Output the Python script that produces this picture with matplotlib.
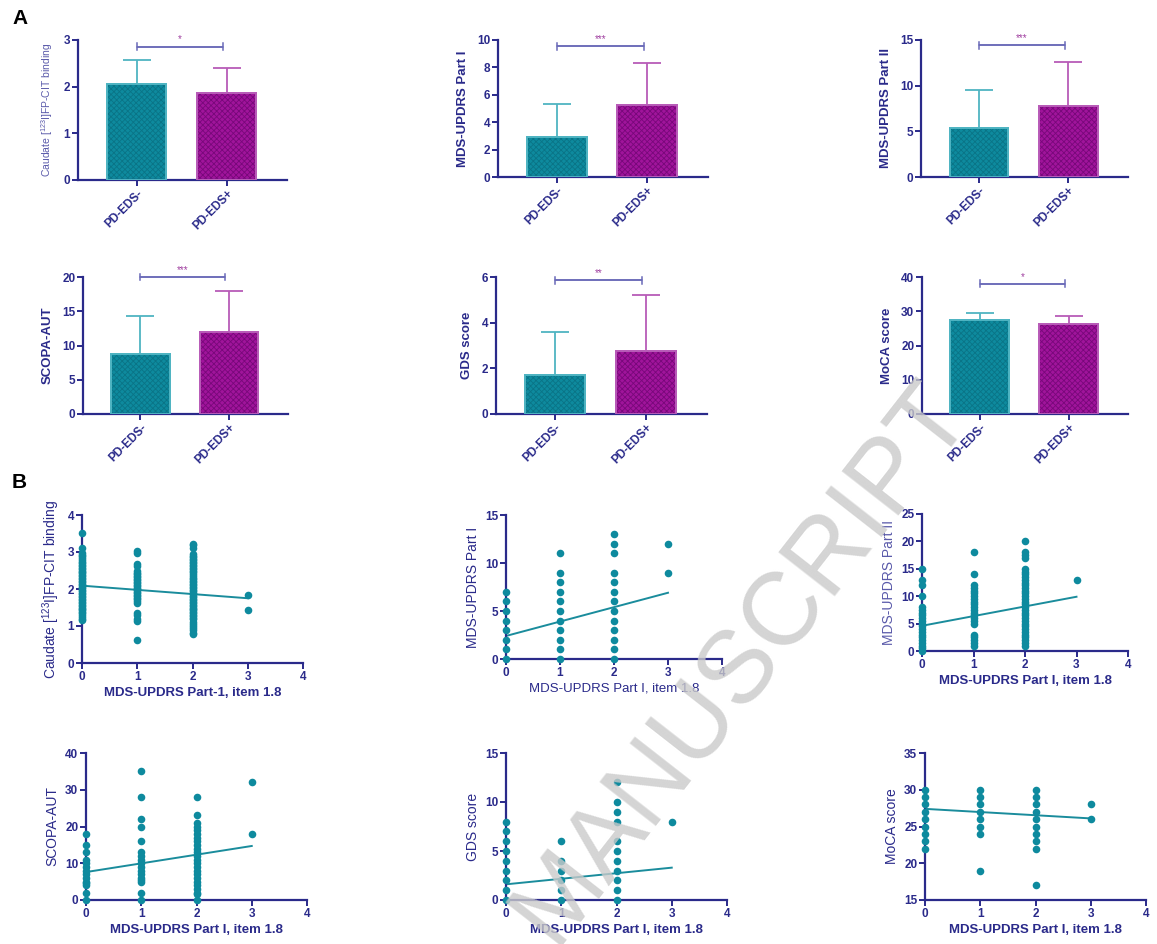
"""Recreate the PD-EDS bar and scatter figure"""
import matplotlib

matplotlib.use("Agg")
import matplotlib.pyplot as plt  # noqa: E402

plt.rcParams["font.family"] = ["Liberation Sans", "DejaVu Sans"]
plt.rcParams["mathtext.default"] = "regular"
plt.rcParams["hatch.linewidth"] = 0.6

NAVY = "#2A2A8A"
TEAL = "#0E8A9E"
MAG = "#A0149B"

# ---- panel A: group means, upper SD and significance ----
groups = ["PD-EDS-", "PD-EDS+"]
bar_labels = [r"Caudate [$^{123}$I]FP-CIT binding", "MDS-UPDRS Part I",
              "MDS-UPDRS Part II", "SCOPA-AUT", "GDS score", "MoCA score"]
bar_means = [[2.05, 1.86], [2.9, 5.25], [5.4, 7.75],
             [8.7, 11.9], [1.7, 2.75], [27.3, 26.3]]
bar_tops = [[2.58, 2.41], [5.35, 8.3], [9.5, 12.55],
            [14.3, 17.9], [3.6, 5.2], [29.5, 28.7]]
bar_ymax = [3, 10, 15, 20, 6, 40]
bar_ystep = [1, 2, 5, 5, 2, 10]
sig_y = [2.86, 9.55, 14.4, 20.0, 5.85, 38.0]
sig_stars = ["*", "***", "***", "***", "**", "*"]

# ---- panel B: item 1.8 score (0..3) vs outcome ----
sc_ylabels = [r"Caudate [$^{123}$I]FP-CIT binding", "MDS-UPDRS Part I",
              "MDS-UPDRS Part II", "SCOPA-AUT", "GDS score", "MoCA score"]
sc_xlabels = ["MDS-UPDRS Part-1, item 1.8", "MDS-UPDRS Part I, item 1.8",
              "MDS-UPDRS Part I, item 1.8", "MDS-UPDRS Part I, item 1.8",
              "MDS-UPDRS Part I, item 1.8", "MDS-UPDRS Part I, item 1.8"]
sc_ylim = [(0, 4), (0, 15), (0, 25), (0, 40), (0, 15), (15, 35)]
sc_ystep = [1, 5, 5, 10, 5, 5]
caud_pts = [
    [3.52, 3.1, 2.98, 2.92, 2.88, 2.83, 2.78, 2.74, 2.7, 2.66, 2.62, 2.58,
     2.54, 2.5, 2.46, 2.42, 2.38, 2.34, 2.3, 2.26, 2.22, 2.18, 2.14, 2.1,
     2.06, 2.02, 1.98, 1.94, 1.9, 1.86, 1.82, 1.78, 1.74, 1.7, 1.66, 1.62,
     1.58, 1.54, 1.5, 1.46, 1.42, 1.38, 1.34, 1.3, 1.25, 1.2, 1.16],
    [3.02, 2.97, 2.68, 2.62, 2.48, 2.44, 2.4, 2.36, 2.32, 2.28, 2.24, 2.2,
     2.16, 2.12, 2.08, 2.04, 2.0, 1.96, 1.92, 1.88, 1.84, 1.8, 1.76, 1.72,
     1.68, 1.62, 1.36, 1.3, 1.18, 1.13, 0.63],
    [3.22, 3.18, 3.12, 2.95, 2.9, 2.86, 2.82, 2.78, 2.74, 2.7, 2.66, 2.62,
     2.58, 2.54, 2.5, 2.45, 2.4, 2.35, 2.3, 2.26, 2.22, 2.18, 2.14, 2.1,
     2.06, 2.02, 1.98, 1.94, 1.9, 1.86, 1.82, 1.78, 1.74, 1.7, 1.66, 1.62,
     1.58, 1.54, 1.5, 1.46, 1.42, 1.38, 1.34, 1.3, 1.26, 1.22, 1.18, 1.12,
     1.06, 1.0, 0.94, 0.88, 0.82, 0.78],
    [1.83, 1.43],
]
upd1_pts = [
    [0, 1, 2, 3, 4, 5, 6, 7],
    [0, 1, 2, 3, 4, 5, 6, 7, 8, 9, 11],
    [0, 1, 2, 3, 4, 5, 6, 7, 8, 9, 11, 12, 13],
    [9, 12],
]
upd2_pts = [
    [0, 0.5, 1, 1.5, 2, 2.5, 3, 3.5, 4, 4.5, 5, 5.5, 6, 6.5, 7, 7.5, 8, 10,
     12, 13, 15],
    [1, 1.5, 2, 2.5, 3, 5, 5.5, 6, 6.5, 7, 7.5, 8, 8.5, 9, 9.5, 10, 10.5, 11,
     11.5, 12, 14, 18],
    [1, 1.5, 2, 2.5, 3, 3.5, 4, 4.5, 5, 5.5, 6, 6.5, 7, 7.5, 8, 8.5, 9, 9.5,
     10, 10.5, 11, 11.5, 12, 12.5, 13, 13.5, 14, 14.5, 15, 17, 17.5, 18, 20],
    [13],
]
scopa_pts = [
    [0, 2, 4, 4.5, 5, 6, 7, 8, 9, 10, 11, 13, 15, 18],
    [0, 2, 5, 5.5, 6, 7, 8, 9, 10, 11, 12, 13, 16, 20, 22, 28, 35],
    [0, 1.5, 2, 3, 4, 5, 6, 7, 8, 9, 10, 11, 12, 13, 14, 15, 16, 17, 18,
     19, 20, 21, 23, 28],
    [18, 32],
]
gds_pts = [
    [0, 1, 2, 3, 4, 5, 6, 7, 8],
    [0, 1, 2, 3, 4, 6],
    [0, 1, 2, 3, 4, 5, 6, 8, 9, 10, 12],
    [8],
]
moca_pts = [
    [22, 23, 24, 25, 26, 27, 28, 29, 30],
    [19, 24, 25, 26, 27, 28, 29, 30],
    [17, 22, 23, 24, 25, 26, 27, 28, 29, 30],
    [26, 28],
]
sc_points = [caud_pts, upd1_pts, upd2_pts, scopa_pts, gds_pts, moca_pts]
# regression line values at item score 0 and 3
fit_start = [2.09, 2.4, 4.6, 7.6, 1.6, 27.4]
fit_end = [1.75, 6.9, 9.9, 14.7, 3.3, 26.1]

W, H = 1157, 944
bar_boxes = [(78, 287, 40, 180), (498, 708, 40, 177), (921, 1128, 40, 177),
             (83, 288, 277, 414), (496, 707, 277, 414), (922, 1128, 277, 414)]
sc_boxes = [(82, 303, 515, 663), (506, 722, 515, 659), (922, 1128, 514, 651),
            (86, 307, 753, 900), (506, 727, 753, 900), (925, 1146, 753, 900)]


def px_axes(fig, box):
    left, right, top, bottom = box
    return fig.add_axes([left / W, 1 - bottom / H,
                         (right - left) / W, (bottom - top) / H])


def style_axes(ax):
    for side in ["top", "right"]:
        ax.spines[side].set_visible(False)
    for side in ["left", "bottom"]:
        ax.spines[side].set_color(NAVY)
        ax.spines[side].set_linewidth(1.6)
    ax.tick_params(colors=NAVY, width=1.4, length=4, labelsize=8.5,
                   direction="out", pad=1.5)
    for lab in ax.get_xticklabels() + ax.get_yticklabels():
        lab.set_fontweight("bold")
        lab.set_color(NAVY)


fig = plt.figure(figsize=(W / 100, H / 100), dpi=100)

for i, box in enumerate(bar_boxes):
    ax = px_axes(fig, box)
    xs = [1, 2]
    for x, m, top, fc, hc, ec in zip(xs, bar_means[i], bar_tops[i],
                                     [TEAL, MAG], ["#0A7486", "#78087A"],
                                     ["#4FB4C2", "#B85CB8"]):
        ax.bar(x, m, width=0.66, color=fc, edgecolor=ec, linewidth=1.4,
               zorder=2)
        ax.bar(x, m, width=0.66, fill=False, hatch="xxxxxx", edgecolor=hc,
               linewidth=0, zorder=3)
        ax.bar(x, m, width=0.66, fill=False, edgecolor=ec, linewidth=1.4,
               zorder=4)
        ax.errorbar(x, m, yerr=[[0], [top - m]], color=ec, capsize=10,
                    elinewidth=1.3, capthick=1.3, zorder=1)
    ax.set_xlim(0.35, 2.67)
    ax.set_ylim(0, bar_ymax[i])
    ax.set_yticks(range(0, bar_ymax[i] + 1, bar_ystep[i]))
    ax.set_xticks(xs)
    ax.set_xticklabels(groups, rotation=45, ha="right",
                       rotation_mode="anchor")
    style_axes(ax)
    # significance bracket
    ys = sig_y[i]
    tick = bar_ymax[i] * 0.025
    ax.plot([1, 1, 1.96, 1.96], [ys - tick, ys, ys, ys - tick],
            color="#6A6AB8", lw=1.1, clip_on=False)
    ax.plot([1, 1, 1.96, 1.96], [ys + tick, ys, ys, ys + tick],
            color="#6A6AB8", lw=1.1, clip_on=False)
    ax.text(1.48, ys + bar_ymax[i] * 0.015, sig_stars[i], color="#A040A0",
            fontsize=7, ha="center", va="bottom")
    if i == 0:
        ax.set_ylabel(bar_labels[i], color="#5A5AAA", fontsize=7.5,
                      labelpad=6)
    else:
        ax.set_ylabel(bar_labels[i], color=NAVY, fontsize=9.5,
                      fontweight="bold", labelpad=6)

for i, box in enumerate(sc_boxes):
    ax = px_axes(fig, box)
    for score, vals in enumerate(sc_points[i]):
        ax.scatter([score] * len(vals), vals, s=30, color=TEAL,
                   linewidths=0, zorder=3, clip_on=False)
    ax.plot([0, 3], [fit_start[i], fit_end[i]], color="#1A8C9C", lw=1.4,
            zorder=2)
    ax.set_xlim(0, 4)
    ax.set_ylim(*sc_ylim[i])
    lo, hi = sc_ylim[i]
    ax.set_yticks(range(lo, hi + 1, sc_ystep[i]))
    ax.set_xticks(range(0, 5))
    style_axes(ax)
    ylab_color = "#5A5AAA" if i == 2 else NAVY
    ax.set_ylabel(sc_ylabels[i], color=ylab_color, fontsize=10, labelpad=4)
    xweight = "normal" if i == 1 else "bold"
    ax.set_xlabel(sc_xlabels[i], color=NAVY, fontsize=9.5,
                  fontweight=xweight, labelpad=3)

fig.text(12 / W, 1 - 18 / H, "A", fontsize=15, fontweight="bold",
         va="center", ha="left")
fig.text(12 / W, 1 - 483 / H, "B", fontsize=15, fontweight="bold",
         va="center", ha="left")
fig.text(742 / W, 1 - 662 / H, "MANUSCRIPT", fontsize=74, color="#CACACA",
         alpha=0.8, rotation=52, ha="center", va="center", zorder=10)

fig.savefig("out.png", dpi=100)
